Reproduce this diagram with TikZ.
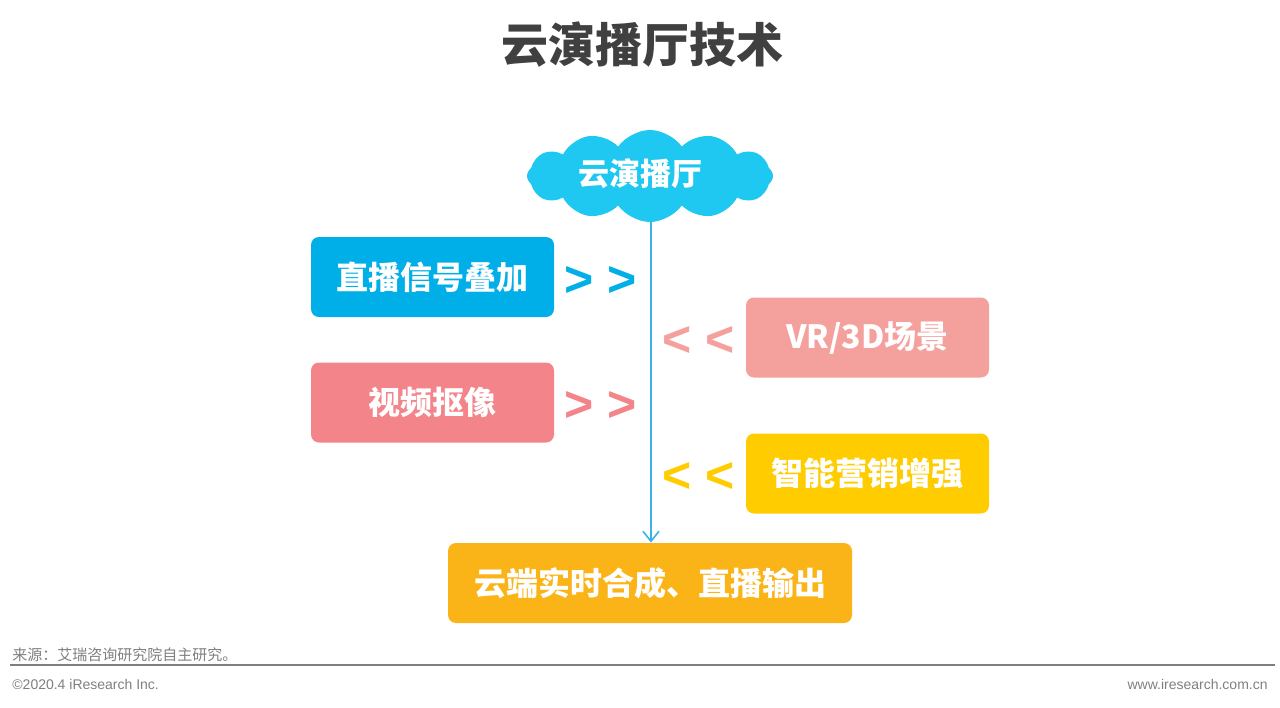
\documentclass[tikz,border=0pt]{standalone}
\usepackage{fontspec}
\setmainfont{Noto Sans CJK SC}
\newfontfamily\latinfont{Liberation Sans}
\usepackage{tikz}
\usetikzlibrary{shapes.symbols,arrows.meta,positioning}
\definecolor{ititle}{HTML}{404040}
\definecolor{icloud}{HTML}{1FC8F1}
\definecolor{iline}{HTML}{38B4E6}
\definecolor{iblue}{HTML}{00AEE8}
\definecolor{ipinklt}{HTML}{F4A09D}
\definecolor{ipink}{HTML}{F2848A}
\definecolor{iyellow}{HTML}{FFCC00}
\definecolor{iorange}{HTML}{FBB417}
\definecolor{igray}{HTML}{7F7F7F}

\begin{document}
\begin{tikzpicture}[x=0.5pt, y=-0.5pt,
    techbox/.style={rounded corners=4pt, minimum width=121.5pt, minimum height=40pt,
                    text=white, font=\fontsize{16}{18}\selectfont\bfseries, inner sep=0pt},
    chev/.style={font=\latinfont\bfseries\fontsize{25}{28}\selectfont, inner sep=0pt},
    flow_edge/.style={-{Straight Barb[length=5pt, width=8pt]}, line width=0.8pt, iline},
    foot/.style={font=\fontsize{7.5}{9}\selectfont, text=igray, inner sep=0pt}
]
\useasboundingbox (0,0) rectangle (1280,707);

% Title
\node[font=\fontsize{23.5}{26}\selectfont\bfseries, text=ititle] (title) at (642, 45) {云演播厅技术};

% Cloud and output
\node[cloud, cloud puffs=12, cloud puff arc=110, cloud ignores aspect, fill=icloud, inner sep=0pt,
      minimum width=123pt, minimum height=46pt] (cloud) at (650, 176) {};
\node[text=white, font=\fontsize{15.5}{18}\selectfont\bfseries] (cloudtext) at (640, 174) {云演播厅};
\node[techbox, fill=iorange, minimum width=202pt] (output) at (650, 583) {云端实时合成、直播输出};

\draw[flow_edge] (651, 222) coordinate (start) -- (start |- output.north);

% Left inputs
\node[techbox, fill=iblue] (signal) at (432.5, 277) {直播信号叠加};
\node[chev, text=iblue] (chev1) at (601, 281) {> >};

\node[techbox, fill=ipink] (keying) at (432.5, 402.5) {视频抠像};
\node[chev, text=ipink] (chev3) at (601, 406) {> >};

% Right inputs
\node[techbox, fill=ipinklt] (vr) at (867.5, 337.5) {VR/3D场景};
\node[chev, text=ipinklt] (chev2) at (699, 341) {< <};

\node[techbox, fill=iyellow] (market) at (867.5, 473.5) {智能营销增强};
\node[chev, text=iyellow] (chev4) at (699, 477) {< <};

% Footer
\node[foot, anchor=west] (source) at (12, 655) {来源：艾瑞咨询研究院自主研究。};
\draw[igray, line width=1.1pt] (10, 665) -- (1275, 665);
\node[foot, anchor=west, font=\latinfont\fontsize{7}{9}\selectfont] (copy) at (12, 684) {©2020.4 iResearch Inc.};
\node[foot, anchor=east, font=\latinfont\fontsize{7}{9}\selectfont] (web) at (1268, 684) {www.iresearch.com.cn};

\end{tikzpicture}
\end{document}
